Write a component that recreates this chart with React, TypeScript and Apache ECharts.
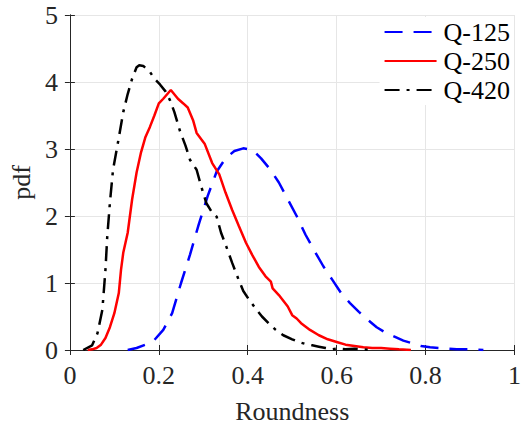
import React, { useEffect, useRef } from "react";
import * as echarts from "echarts";

const seriesNames = ["Q-125", "Q-250", "Q-420"];

const q125X = [0.13, 0.15, 0.17, 0.19, 0.21, 0.23, 0.25, 0.27, 0.29, 0.31, 0.33, 0.35, 0.37, 0.39, 0.41, 0.43, 0.45, 0.47, 0.49, 0.51, 0.53, 0.55, 0.57, 0.59, 0.61, 0.63, 0.65, 0.67, 0.69, 0.71, 0.73, 0.75, 0.77, 0.79, 0.81, 0.83, 0.85, 0.87, 0.89, 0.91, 0.93];
const q125Y = [0.0, 0.03, 0.08, 0.15, 0.3, 0.55, 1.0, 1.42, 1.88, 2.3, 2.66, 2.86, 2.97, 3.01, 2.99, 2.86, 2.7, 2.5, 2.25, 2.0, 1.72, 1.48, 1.25, 1.05, 0.85, 0.7, 0.57, 0.45, 0.34, 0.26, 0.2, 0.14, 0.1, 0.06, 0.04, 0.03, 0.02, 0.01, 0.01, 0.01, 0.0];

const q250X = [0.04, 0.05, 0.06, 0.07, 0.08, 0.09, 0.1, 0.11, 0.115, 0.12, 0.13, 0.14, 0.15, 0.16, 0.17, 0.18, 0.19, 0.2, 0.21, 0.227, 0.243, 0.255, 0.265, 0.277, 0.285, 0.295, 0.303, 0.32, 0.336, 0.35, 0.365, 0.38, 0.396, 0.41, 0.425, 0.44, 0.452, 0.456, 0.47, 0.49, 0.5, 0.51, 0.52, 0.54, 0.56, 0.58, 0.6, 0.62, 0.64, 0.66, 0.68, 0.7, 0.72, 0.74, 0.767];
const q250Y = [0.0, 0.01, 0.03, 0.08, 0.18, 0.34, 0.55, 0.85, 1.2, 1.45, 1.75, 2.25, 2.65, 2.95, 3.18, 3.33, 3.5, 3.68, 3.75, 3.88, 3.75, 3.68, 3.62, 3.43, 3.24, 3.15, 3.08, 2.79, 2.62, 2.35, 2.09, 1.85, 1.6, 1.42, 1.24, 1.1, 1.02, 0.92, 0.82, 0.65, 0.52, 0.47, 0.4, 0.3, 0.22, 0.16, 0.12, 0.08, 0.06, 0.04, 0.03, 0.03, 0.02, 0.01, 0.0];

const q420X = [0.03, 0.05, 0.062, 0.073, 0.08, 0.084, 0.09, 0.097, 0.109, 0.12, 0.13, 0.14, 0.15, 0.156, 0.165, 0.18, 0.19, 0.203, 0.215, 0.225, 0.235, 0.247, 0.26, 0.27, 0.285, 0.295, 0.307, 0.32, 0.33, 0.34, 0.352, 0.365, 0.38, 0.39, 0.403, 0.42, 0.432, 0.45, 0.463, 0.48, 0.5, 0.514, 0.53, 0.545, 0.56, 0.575, 0.59, 0.6, 0.62, 0.64, 0.66, 0.68];
const q420Y = [0.0, 0.07, 0.25, 0.6, 1.2, 1.69, 2.2, 2.69, 3.13, 3.55, 3.82, 4.05, 4.22, 4.25, 4.24, 4.15, 4.05, 3.96, 3.86, 3.73, 3.55, 3.28, 3.05, 2.84, 2.69, 2.45, 2.19, 2.05, 1.99, 1.75, 1.54, 1.3, 1.04, 0.88, 0.75, 0.6, 0.5, 0.38, 0.3, 0.22, 0.16, 0.12, 0.09, 0.07, 0.05, 0.03, 0.01, 0.02, 0.01, 0.02, 0.01, 0.0];

const xTicks = [0, 0.2, 0.4, 0.6, 0.8, 1];
const yTicks = [0, 1, 2, 3, 4, 5];

const FONT = "'Liberation Serif', 'DejaVu Serif', serif";
const AXIS_COLOR = "#262626";

function pairs(xs: number[], ys: number[]) {
  return xs.map((x, i) => [x, ys[i]]);
}

export default function App() {
  const ref = useRef<HTMLDivElement>(null);
  useEffect(() => {
    if (!ref.current) return;
    const chart = echarts.init(ref.current, undefined, { renderer: "svg" });
    const labelStyle = { fontFamily: FONT, fontSize: 26, color: AXIS_COLOR };
    const frameLine = { show: true, lineStyle: { color: AXIS_COLOR, width: 1 } };
    const tickIn = { show: true, inside: true, length: 5, lineStyle: { color: AXIS_COLOR, width: 1 } };
    chart.setOption({
      animation: false,
      backgroundColor: "#fff",
      grid: { left: 69, right: 6, top: 15, bottom: 81, containLabel: false },
      legend: {
        orient: "vertical",
        right: 10,
        top: 17,
        itemWidth: 52,
        itemHeight: 24,
        itemGap: 3,
        backgroundColor: "#fff",
        padding: [2, 4, 2, 4],
        itemStyle: { opacity: 0, borderWidth: 0 },
        textStyle: { fontFamily: FONT, fontSize: 26, color: "#000", padding: [0, 0, 0, 2] },
        data: seriesNames,
      },
      xAxis: [
        {
          type: "value",
          min: 0,
          max: 1,
          interval: 0.2,
          name: "Roundness",
          nameLocation: "middle",
          nameGap: 48,
          nameTextStyle: { fontFamily: FONT, fontSize: 26, color: AXIS_COLOR },
          axisLine: frameLine,
          axisTick: tickIn,
          axisLabel: {
            ...labelStyle,
            margin: 12,
            formatter: (v: number) => (xTicks.includes(Math.round(v * 10) / 10) ? String(Math.round(v * 10) / 10) : ""),
          },
          splitLine: { show: true, lineStyle: { color: "#e6e6e6", width: 1 } },
        },
        {
          type: "value",
          position: "top",
          min: 0,
          max: 1,
          interval: 0.2,
          axisLine: frameLine,
          axisTick: tickIn,
          axisLabel: { show: false },
          splitLine: { show: false },
        },
      ],
      yAxis: [
        {
          type: "value",
          min: 0,
          max: 5,
          interval: 1,
          name: "pdf",
          nameLocation: "middle",
          nameGap: 32,
          nameTextStyle: { fontFamily: FONT, fontSize: 26, color: AXIS_COLOR },
          axisLine: frameLine,
          axisTick: tickIn,
          axisLabel: {
            ...labelStyle,
            margin: 12,
            formatter: (v: number) => (yTicks.includes(v) ? String(v) : ""),
          },
          splitLine: { show: true, lineStyle: { color: "#e6e6e6", width: 1 } },
        },
        {
          type: "value",
          position: "right",
          min: 0,
          max: 5,
          interval: 1,
          axisLine: frameLine,
          axisTick: tickIn,
          axisLabel: { show: false },
          splitLine: { show: false },
        },
      ],
      series: [
        {
          name: seriesNames[0],
          type: "line",
          showSymbol: false,
          symbol: "none",
          data: pairs(q125X, q125Y),
          lineStyle: { color: "#0000ff", width: 2.5, type: [18, 11] },
          itemStyle: { color: "#0000ff" },
          z: 3,
        },
        {
          name: seriesNames[1],
          type: "line",
          showSymbol: false,
          symbol: "none",
          data: pairs(q250X, q250Y),
          lineStyle: { color: "#ff0000", width: 2.5, type: "solid" },
          itemStyle: { color: "#ff0000" },
          z: 4,
        },
        {
          name: seriesNames[2],
          type: "line",
          showSymbol: false,
          symbol: "none",
          data: pairs(q420X, q420Y),
          lineStyle: { color: "#000000", width: 2.5, type: [15, 7, 3, 7] },
          itemStyle: { color: "#000000" },
          z: 5,
        },
      ],
    });
    return () => chart.dispose();
  }, []);
  return (
    <div
      ref={ref}
      style={{ position: "absolute", left: 0, top: 0, width: 524, height: 431 }}
    />
  );
}
